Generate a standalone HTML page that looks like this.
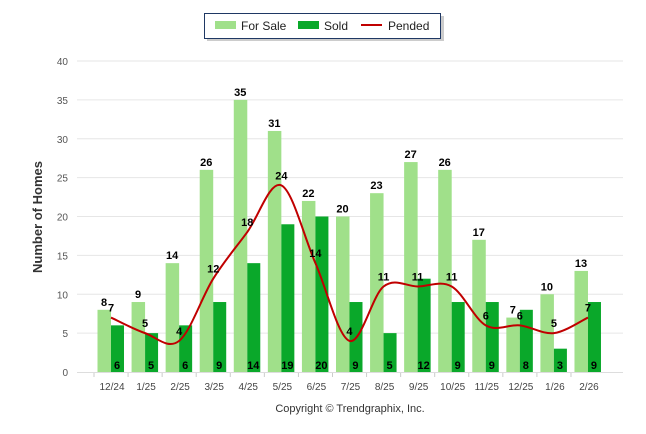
<!DOCTYPE html>
<html><head><meta charset="utf-8"><style>
body{margin:0;background:#fff;}
svg{display:block;font-family:"Liberation Sans",sans-serif;}
</style></head><body>
<svg id="c" width="646" height="434" xmlns="http://www.w3.org/2000/svg">
<rect x="207" y="16" width="237" height="25" fill="#999" opacity="0.5"/>
<rect x="204.5" y="13.5" width="236" height="25" fill="#fff" stroke="#1f3864" stroke-width="1"/>
<rect x="215" y="21" width="21" height="8" fill="#a0e08a"/>
<text x="241" y="30" font-size="12" fill="#222">For Sale</text>
<rect x="298" y="21" width="21" height="8" fill="#0aa82a"/>
<text x="324" y="30" font-size="12" fill="#222">Sold</text>
<rect x="361" y="24" width="21" height="2" fill="#c00000"/>
<text x="388" y="30" font-size="12" fill="#222">Pended</text>
<text transform="translate(42,217) rotate(-90)" text-anchor="middle" font-size="13" font-weight="bold" fill="#333">Number of Homes</text>
<text x="350" y="412" text-anchor="middle" font-size="11" fill="#333">Copyright © Trendgraphix, Inc.</text>
<g id="g"></g>
</svg>
<script>
var fs=[8,9,14,26,35,31,22,20,23,27,26,17,7,10,13];
var sd=[6,5,6,9,14,19,20,9,5,12,9,9,8,3,9];
var pd=[7,5,4,12,18,24,14,4,11,11,11,6,6,5,7];
var lb=["12/24","1/25","2/25","3/25","4/25","5/25","6/25","7/25","8/25","9/25","10/25","11/25","12/25","1/26","2/26"];
function Y(v){return 372-7.775*v;}
function X(i){return 111+34.07*i;}
var s="";
for(var v=0;v<=40;v+=5){var y=Y(v);
 if(v>0)s+='<line x1="77" x2="623" y1="'+y+'" y2="'+y+'" stroke="#e6e6e6"/>';
 s+='<text x="68" y="'+(y+4)+'" text-anchor="end" font-size="10" fill="#555">'+v+'</text>';}
s+='<line x1="77" x2="623" y1="372.5" y2="372.5" stroke="#ddd"/>';
for(var i=0;i<15;i++){var x=X(i);
 s+='<line x1="'+(x-17)+'" x2="'+(x-17)+'" y1="373" y2="377" stroke="#ccc"/>';
 s+='<rect x="'+(x-13.5)+'" y="'+Y(fs[i])+'" width="13.5" height="'+(372-Y(fs[i]))+'" fill="#a0e08a"/>';
 s+='<rect x="'+x+'" y="'+Y(sd[i])+'" width="13" height="'+(372-Y(sd[i]))+'" fill="#0aa82a"/>';
 s+='<text x="'+(x+1)+'" y="390" text-anchor="middle" font-size="10" fill="#444">'+lb[i]+'</text>';
}
var d="M"+X(0)+","+Y(pd[0]);
for(var i=0;i<14;i++){
 var p0=i>0?i-1:i,p3=i<13?i+2:i+1;
 var c1x=X(i)+(X(i+1)-X(p0))/6,c1y=Y(pd[i])+(Y(pd[i+1])-Y(pd[p0]))/6;
 var c2x=X(i+1)-(X(p3)-X(i))/6,c2y=Y(pd[i+1])-(Y(pd[p3])-Y(pd[i]))/6;
 d+=" C"+c1x+","+c1y+" "+c2x+","+c2y+" "+X(i+1)+","+Y(pd[i+1]);}
s+='<path d="'+d+'" fill="none" stroke="#c00000" stroke-width="2"/>';
for(var i=0;i<15;i++){var x=X(i);
 s+='<text x="'+(x-7)+'" y="'+(Y(fs[i])-4)+'" text-anchor="middle" font-size="11" font-weight="bold" fill="#000">'+fs[i]+'</text>';
 s+='<text x="'+(x+6)+'" y="369" text-anchor="middle" font-size="11" font-weight="bold" fill="#000">'+sd[i]+'</text>';
 s+='<text x="'+x+'" y="'+(Y(pd[i])-6)+'" text-anchor="middle" font-size="11" font-weight="bold" fill="#000">'+pd[i]+'</text>';
}
document.getElementById("g").innerHTML=s;
</script>
</body></html>
